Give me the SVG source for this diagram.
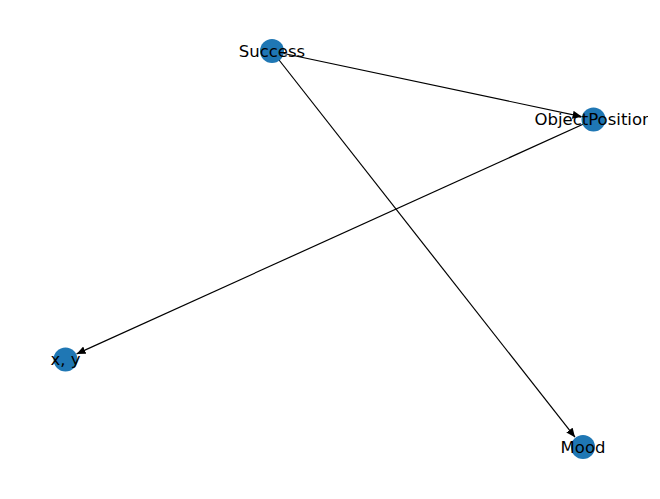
<svg xmlns="http://www.w3.org/2000/svg" width="660" height="499" viewBox="0 0 660 499">
<style>
.node{fill:#1f77b4}
.edge{stroke:#000;stroke-width:1.2;fill:none}
.lbl{font-family:"DejaVu Sans",sans-serif;font-size:16.5px;fill:#000;text-anchor:middle;dominant-baseline:central}
</style>
<defs>
<marker id="arr" markerWidth="10" markerHeight="8" refX="9" refY="4" orient="auto" markerUnits="userSpaceOnUse">
<path d="M0,0 L9,4 L0,8 z" fill="#000"/>
</marker>
<clipPath id="clipR"><rect x="0" y="0" width="648" height="499"/></clipPath>
</defs>
<rect width="660" height="499" fill="#fff"/>
<g id="edges">
<line class="edge" x1="272" y1="51" x2="581.6" y2="116.6" marker-end="url(#arr)"/>
<line class="edge" x1="272" y1="51" x2="575.0" y2="437.2" marker-end="url(#arr)"/>
<line class="edge" x1="593.5" y1="119.5" x2="76.6" y2="353.9" marker-end="url(#arr)"/>
</g>
<g id="node-Success"><circle class="node" cx="272" cy="51" r="12"/><text class="lbl" x="272" y="51">Success</text></g>
<g id="node-ObjectPosition"><circle class="node" cx="593.5" cy="119.5" r="12"/><text class="lbl" x="593.5" y="119.5" clip-path="url(#clipR)">ObjectPosition</text></g>
<g id="node-xy"><circle class="node" cx="65.5" cy="359.5" r="12"/><text class="lbl" x="65.5" y="359.5">x, y</text></g>
<g id="node-Mood"><circle class="node" cx="583" cy="447" r="12"/><text class="lbl" x="583" y="447">Mood</text></g>
</svg>
